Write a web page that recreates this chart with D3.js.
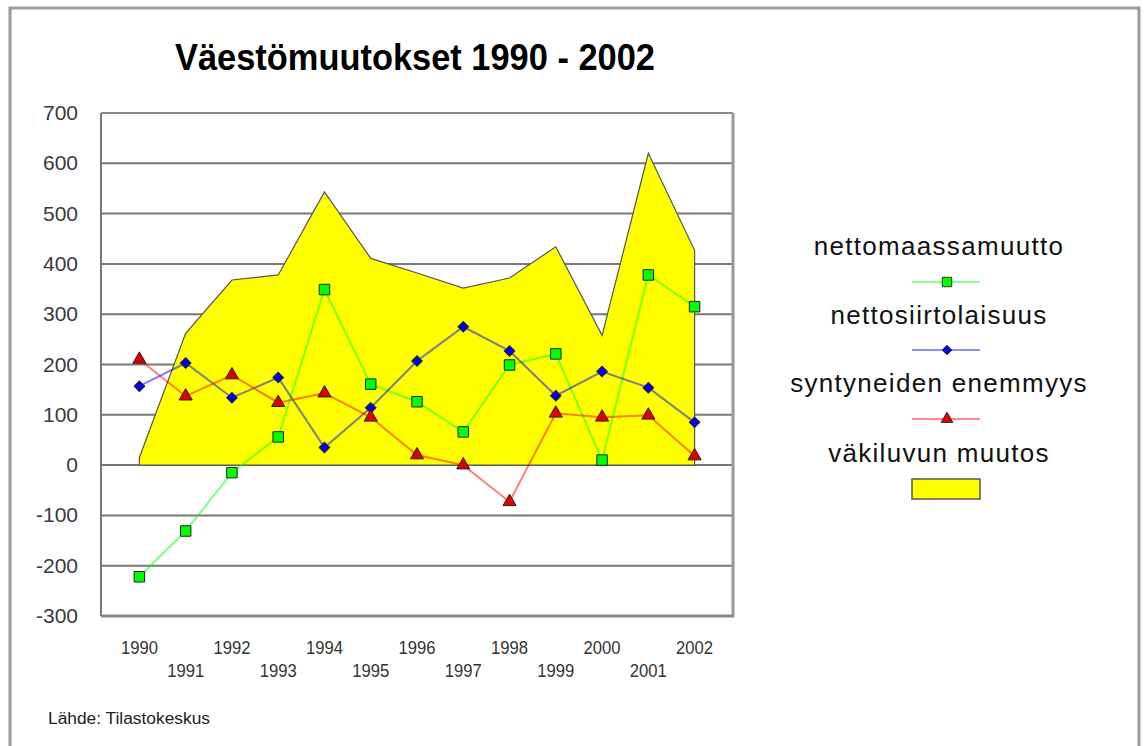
<!DOCTYPE html>
<html>
<head>
<meta charset="utf-8">
<script src="https://cdn.jsdelivr.net/npm/d3@7"></script>
<style>
  body { margin: 0; background: #fff; }
  svg { display: block; font-family: Arial, "Liberation Sans", sans-serif; }
</style>
</head>
<body>
<svg width="1147" height="746"></svg>
<script>
let years = ["1990", "1991", "1992", "1993", "1994", "1995", "1996",
             "1997", "1998", "1999", "2000", "2001", "2002"];
let vakiluku = [15, 262, 368, 378, 543, 411, 382, 352, 372, 434, 258, 620, 427];
let nettomaassa = [-222, -131, -15, 56, 349, 161, 126, 66, 199, 221, 10, 378, 315];
let siirto = [157, 203, 134, 174, 35, 114, 207, 275, 227, 138, 186, 154, 85];
let syntyneet = [210, 137, 179, 124, 143, 95, 20, 0, -73, 103, 95, 99, 18];
let yTicks = [700, 600, 500, 400, 300, 200, 100, 0, -100, -200, -300];

let svg = d3.select("svg");

// outer frame (bottom edge runs off the page)
svg.append("rect")
  .attr("x", 10).attr("y", 8)
  .attr("width", 1129).attr("height", 760)
  .attr("fill", "#fff")
  .attr("stroke", "#9a9a9a")
  .attr("stroke-width", 3);

svg.append("text")
  .attr("x", 415).attr("y", 70)
  .attr("text-anchor", "middle")
  .attr("font-size", 36)
  .attr("font-weight", "bold")
  .attr("textLength", 480)
  .attr("lengthAdjust", "spacingAndGlyphs")
  .text("Väestömuutokset 1990 - 2002");

let plotL = 101, plotR = 733, plotT = 113, plotB = 616;

let x = d3.scalePoint().domain(years).range([plotL, plotR]).padding(0.83);
let y = d3.scaleLinear().domain([-300, 700]).range([plotB, plotT]);

// grid lines
svg.append("g")
  .selectAll("line")
  .data(yTicks)
  .enter()
  .append("line")
  .attr("x1", plotL).attr("x2", plotR)
  .attr("y1", function (d) { return y(d); })
  .attr("y2", function (d) { return y(d); })
  .attr("stroke", "#777")
  .attr("stroke-width", 2);

// y labels
svg.append("g")
  .selectAll("text")
  .data(yTicks)
  .enter()
  .append("text")
  .attr("x", 78)
  .attr("y", function (d) { return y(d) + 7; })
  .attr("text-anchor", "end")
  .attr("font-size", 21)
  .attr("fill", "#3a3a3a")
  .text(function (d) { return d; });

// area
let area = d3.area()
  .x(function (d, i) { return x(years[i]); })
  .y0(y(0))
  .y1(function (d) { return y(d); });

svg.append("path")
  .datum(vakiluku)
  .attr("d", area)
  .attr("fill", "#ffff00")
  .attr("stroke", "#555")
  .attr("stroke-width", 1.2);

// plot frame
svg.append("line").attr("x1", plotL).attr("x2", plotL).attr("y1", plotT).attr("y2", plotB)
  .attr("stroke", "#777").attr("stroke-width", 2);
svg.append("line").attr("x1", plotL).attr("x2", plotR).attr("y1", plotT).attr("y2", plotT)
  .attr("stroke", "#888").attr("stroke-width", 2);
svg.append("line").attr("x1", plotR).attr("x2", plotR).attr("y1", plotT).attr("y2", plotB + 1)
  .attr("stroke", "#999").attr("stroke-width", 3);
svg.append("line").attr("x1", plotL).attr("x2", plotR + 1).attr("y1", plotB).attr("y2", plotB)
  .attr("stroke", "#888").attr("stroke-width", 3);

// x labels, alternating rows
svg.append("g")
  .selectAll("text")
  .data(years)
  .enter()
  .append("text")
  .attr("x", function (d) { return x(d); })
  .attr("y", function (d, i) { return i % 2 == 0 ? 654 : 677; })
  .attr("text-anchor", "middle")
  .attr("font-size", 19)
  .attr("textLength", 37)
  .attr("lengthAdjust", "spacingAndGlyphs")
  .attr("fill", "#333")
  .text(function (d) { return d; });

let series = [
  { name: "nettomaassamuutto", values: nettomaassa, line: "#00ff00", fill: "#00ff00", marker: "square" },
  { name: "nettosiirtolaisuus", values: siirto, line: "#0000ff", fill: "#0000ee", marker: "diamond" },
  { name: "syntyneiden enemmyys", values: syntyneet, line: "#ff0000", fill: "#e00000", marker: "triangle" }
];

let line = d3.line()
  .x(function (d, i) { return x(years[i]); })
  .y(function (d) { return y(d); });

series.forEach(function (s) {
  svg.append("path")
    .datum(s.values)
    .attr("d", line)
    .attr("fill", "none")
    .attr("stroke", s.line)
    .attr("stroke-opacity", 0.5)
    .attr("stroke-width", 2);
});

let symbols = {
  square: { gen: d3.symbol().type(d3.symbolSquare).size(110), rot: 0 },
  diamond: { gen: d3.symbol().type(d3.symbolSquare).size(56), rot: 45 },
  triangle: { gen: d3.symbol().type(d3.symbolTriangle).size(75), rot: 0 }
};

function drawMarker(g, s, cx, cy, scale) {
  let sym = symbols[s.marker];
  g.append("path")
    .attr("d", sym.gen())
    .attr("transform", "translate(" + cx + "," + cy + ") rotate(" + sym.rot + ") scale(" + scale + ")")
    .attr("fill", s.fill)
    .attr("stroke", "#222")
    .attr("stroke-width", 1);
}

series.forEach(function (s) {
  let g = svg.append("g");
  s.values.forEach(function (v, i) {
    drawMarker(g, s, x(years[i]), y(v), 1);
  });
});

// legend
let legend = svg.append("g");
let legendText = [
  { label: "nettomaassamuutto", y: 255 },
  { label: "nettosiirtolaisuus", y: 324 },
  { label: "syntyneiden enemmyys", y: 392 },
  { label: "väkiluvun muutos", y: 462 }
];
let sampleY = [282, 350, 419];

legendText.forEach(function (t) {
  legend.append("text")
    .attr("x", 939).attr("y", t.y)
    .attr("text-anchor", "middle")
    .attr("font-size", 26)
    .attr("letter-spacing", 1.3)
    .attr("fill", "#111")
    .text(t.label);
});

series.forEach(function (s, i) {
  legend.append("line")
    .attr("x1", 912).attr("x2", 980)
    .attr("y1", sampleY[i]).attr("y2", sampleY[i])
    .attr("stroke", s.line)
    .attr("stroke-opacity", 0.45)
    .attr("stroke-width", 2);
  drawMarker(legend, s, 947, sampleY[i], 0.9);
});

legend.append("rect")
  .attr("x", 912).attr("y", 479)
  .attr("width", 68).attr("height", 20)
  .attr("fill", "#ffff00")
  .attr("stroke", "#555")
  .attr("stroke-width", 1.5);

svg.append("text")
  .attr("x", 48).attr("y", 724)
  .attr("font-size", 16)
  .attr("textLength", 162)
  .attr("lengthAdjust", "spacingAndGlyphs")
  .attr("fill", "#222")
  .text("Lähde: Tilastokeskus");
</script>
</body>
</html>
